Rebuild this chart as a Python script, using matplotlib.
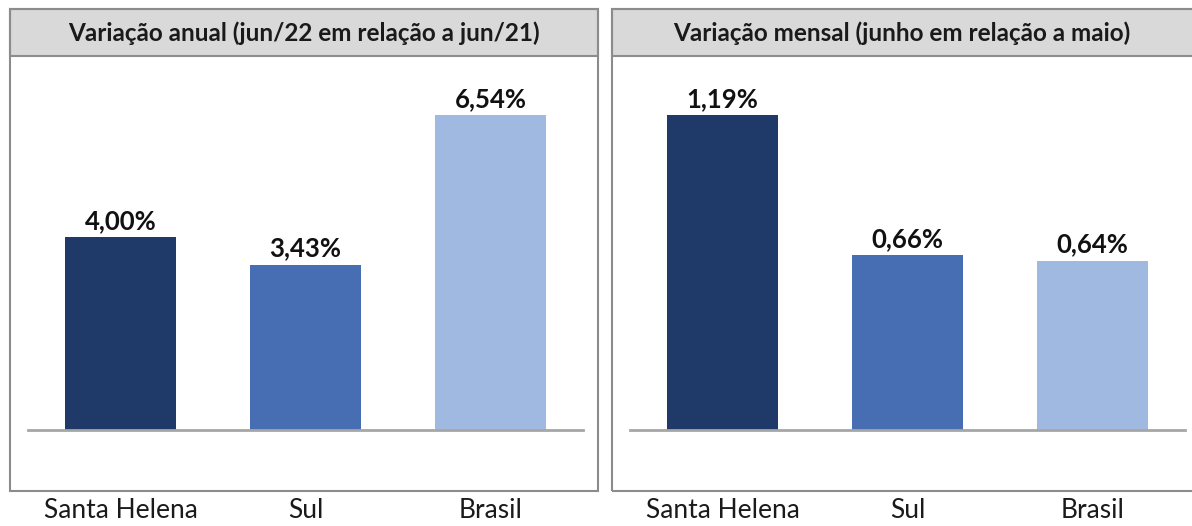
import matplotlib.pyplot as plt
from matplotlib.patches import Rectangle

plt.rcParams['font.family'] = ['Lato', 'DejaVu Sans']

categories = ["Santa Helena", "Sul", "Brasil"]
annual = [4.00, 3.43, 6.54]
monthly = [1.19, 0.66, 0.64]
titles = ["Variação anual (jun/22 em relação a jun/21)",
          "Variação mensal (junho em relação a maio)"]
colors = ["#1f3968", "#476db3", "#a0b9e1"]

W, H = 1192, 526
fig = plt.figure(figsize=(W / 100, H / 100), dpi=100)


def fx(px):
    return px / W


def fy(py):
    return 1 - py / H


# panel boxes in pixel coords: (left, right)
panels = [(10, 598), (612, 1196)]
axes_x = [(28, 583), (630, 1185)]
box_top, band_bot, box_bot = 9, 56, 491
base_y, top_y = 430, 100

for i, (vals, title) in enumerate(zip([annual, monthly], titles)):
    l, r = panels[i]
    # title band + panel frame
    fig.patches.append(Rectangle((fx(l), fy(band_bot)), fx(r - l), fy(box_top) - fy(band_bot),
                                 transform=fig.transFigure, facecolor="#d9d9d9",
                                 edgecolor="#8c8c8c", linewidth=1.5))
    fig.patches.append(Rectangle((fx(l), fy(box_bot)), fx(r - l), fy(box_top) - fy(box_bot),
                                 transform=fig.transFigure, facecolor="none",
                                 edgecolor="#8c8c8c", linewidth=1.5))
    fig.text(fx((l + min(r, W)) / 2), fy((box_top + band_bot) / 2 + 1), title,
             ha="center", va="center", fontsize=17.5, fontweight="bold", color="#1a1a1a")

    a0, a1 = axes_x[i]
    ax = fig.add_axes([fx(a0), fy(base_y), fx(a1 - a0), fy(top_y) - fy(base_y)])
    x = range(len(categories))
    ax.bar(x, vals, width=0.6, color=colors)
    ax.set_xlim(-0.5, 2.5)
    ax.set_ylim(0, max(vals) * (base_y - top_y) / 315)
    for s in ["top", "right", "left"]:
        ax.spines[s].set_visible(False)
    ax.spines["bottom"].set_color("#a6a6a6")
    ax.spines["bottom"].set_linewidth(2)
    ax.set_yticks([])
    ax.set_xticks(list(x))
    ax.set_xticklabels(categories, fontsize=19, color="#1a1a1a")
    ax.tick_params(axis="x", length=0, pad=49)
    for xi, v in zip(x, vals):
        ax.annotate(f"{v:.2f}%".replace(".", ","), (xi, v), xytext=(0, 3),
                    textcoords="offset points", ha="center", va="bottom",
                    fontsize=18.5, fontweight="bold", color="#111111")

fig.savefig("out.png", dpi=100)
